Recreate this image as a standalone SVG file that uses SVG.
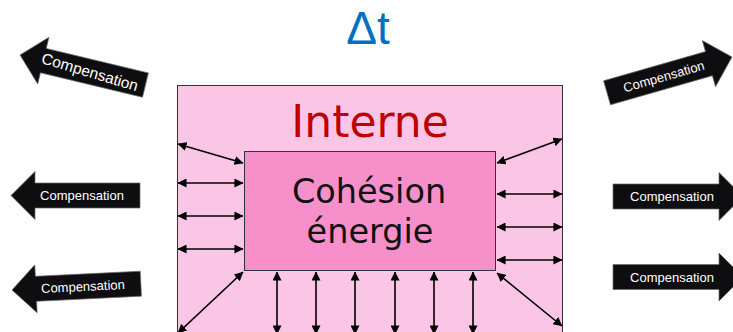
<svg xmlns="http://www.w3.org/2000/svg" width="733" height="332" viewBox="0 0 733 332">
<style>
.comp{fill:#0e0e10;stroke:#6a6a6a;stroke-width:0.7}
.ctext{fill:#ffffff;font-family:"Liberation Sans",Arial,sans-serif;font-size:13px;text-anchor:middle}
.link{stroke:#000;stroke-width:1.6;fill:none;marker-start:url(#ah);marker-end:url(#ah)}
</style>
<defs>
<marker id="ah" viewBox="0 0 10 10" refX="9.5" refY="5" markerWidth="9" markerHeight="9" markerUnits="userSpaceOnUse" orient="auto-start-reverse">
<path d="M0,0 L10,5 L0,10 z" fill="#000"/>
</marker>
<path id="leftArrow" d="M0,0 L24,-24 L24,-12.5 L129,-12.5 L129,12.5 L24,12.5 L24,24 Z"/>
<path id="rightArrow" d="M0,0 L-24,-24 L-24,-12.5 L-130,-12.5 L-130,12.5 L-24,12.5 L-24,24 Z"/>
</defs>

<g id="delta-t">
<text x="368" y="43.5" font-family="'Liberation Sans',Arial,sans-serif" font-size="46" fill="#0070c0" text-anchor="middle">Δt</text>
</g>

<g id="interne">
<rect x="177.5" y="85.5" width="385" height="260" fill="#fbc6e6" stroke="#333" stroke-width="1"/>
<text x="370" y="137" font-family="'DejaVu Sans',sans-serif" font-size="44" fill="#c00000" text-anchor="middle">Interne</text>
</g>

<g id="cohesion">
<rect x="244.5" y="151.5" width="251" height="119" fill="#f78fcb" stroke="#333" stroke-width="1"/>
<text x="369" y="203" font-family="'DejaVu Sans',sans-serif" font-size="33.5" fill="#111" text-anchor="middle">Cohésion</text>
<text x="370" y="243" font-family="'DejaVu Sans',sans-serif" font-size="33.5" fill="#111" text-anchor="middle">énergie</text>
</g>

<g id="connectors">
<line class="link" x1="178" y1="144" x2="243" y2="163"/>
<line class="link" x1="178" y1="183" x2="243" y2="183"/>
<line class="link" x1="178" y1="216" x2="243" y2="216"/>
<line class="link" x1="178" y1="249" x2="243" y2="249"/>
<line class="link" x1="243" y1="272" x2="178" y2="333"/>
<line class="link" x1="497" y1="163" x2="562" y2="139"/>
<line class="link" x1="497" y1="194" x2="562" y2="194"/>
<line class="link" x1="497" y1="227" x2="562" y2="227"/>
<line class="link" x1="497" y1="260" x2="562" y2="260"/>
<line class="link" x1="497" y1="273" x2="562" y2="326"/>
<line class="link" x1="277" y1="272" x2="277" y2="334"/>
<line class="link" x1="316" y1="272" x2="316" y2="334"/>
<line class="link" x1="355" y1="272" x2="355" y2="334"/>
<line class="link" x1="395" y1="272" x2="395" y2="334"/>
<line class="link" x1="434" y1="272" x2="434" y2="334"/>
<line class="link" x1="473" y1="272" x2="473" y2="334"/>
</g>

<g id="comp-left-top" transform="translate(20,55) rotate(13.5)">
<use href="#leftArrow" class="comp"/>
<text class="ctext" x="72" y="5.5" font-size="15.5" style="font-size:15.5px" transform="rotate(3 72 0)">Compensation</text>
</g>
<g id="comp-left-mid" transform="translate(11,195.5)">
<use href="#leftArrow" class="comp"/>
<text class="ctext" x="71" y="4.5">Compensation</text>
</g>
<g id="comp-left-bottom" transform="translate(12,290) rotate(-2.8)">
<use href="#leftArrow" class="comp"/>
<text class="ctext" x="71" y="4.5">Compensation</text>
</g>
<g id="comp-right-top" transform="translate(732,57) rotate(-16)">
<use href="#rightArrow" class="comp"/>
<text class="ctext" x="-71" y="4.5">Compensation</text>
</g>
<g id="comp-right-mid" transform="translate(743,196.5)">
<use href="#rightArrow" class="comp"/>
<text class="ctext" x="-71" y="4.5">Compensation</text>
</g>
<g id="comp-right-bottom" transform="translate(743,277)">
<use href="#rightArrow" class="comp"/>
<text class="ctext" x="-71" y="4.5">Compensation</text>
</g>
</svg>
